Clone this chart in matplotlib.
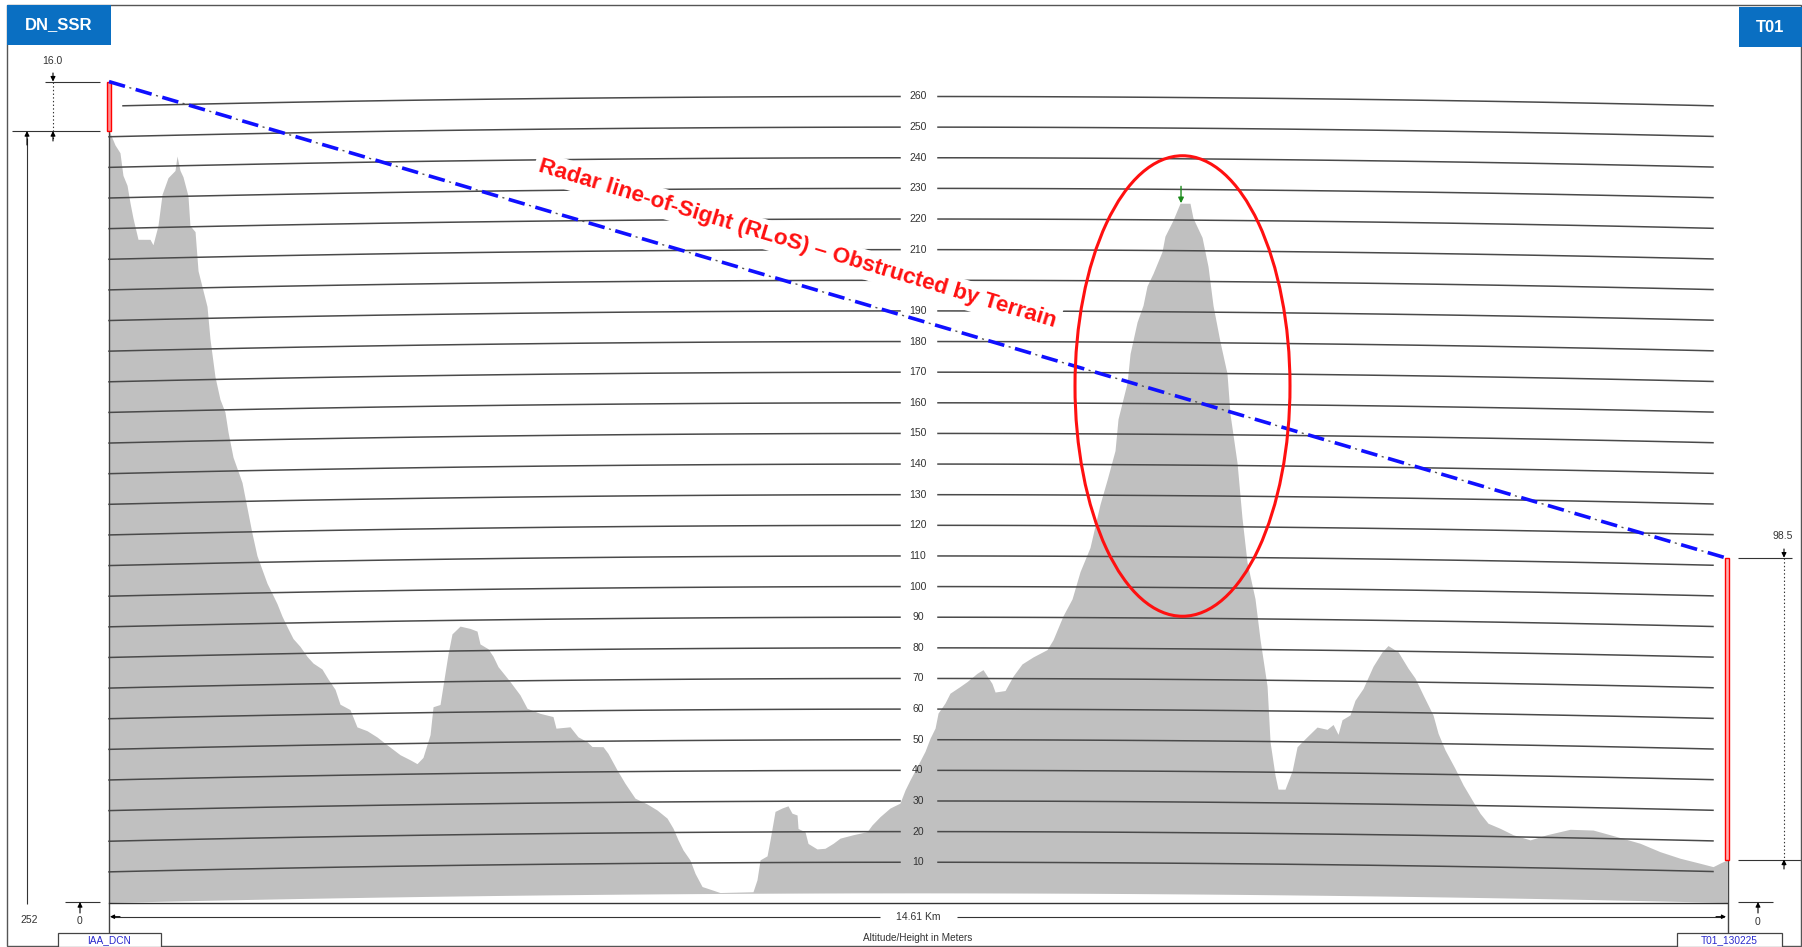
import numpy as np
import matplotlib
matplotlib.use("Agg")
import matplotlib.pyplot as plt
from matplotlib.patches import Ellipse, Rectangle

plt.rcParams['font.family'] = ['Liberation Sans', 'DejaVu Sans']
plt.rcParams['lines.scale_dashes'] = False

# ---- data ----
path_km = 14.61
site_a = "IAA_DCN"
site_b = "T01_130225"
site_a_ground = 252.0
site_a_antenna = 16.0
site_b_ground = 13.9
site_b_antenna = 98.5

dist_km = [0.000, 0.054, 0.099, 0.126, 0.163, 0.190, 0.217, 0.262, 0.370, 0.397,
           0.442, 0.479, 0.533, 0.596, 0.614, 0.641, 0.668, 0.713, 0.731, 0.777,
           0.804, 0.885, 0.912, 0.957, 1.002, 1.047, 1.075, 1.120, 1.201, 1.246,
           1.291, 1.336, 1.427, 1.472, 1.517, 1.562, 1.616, 1.662, 1.725, 1.788,
           1.842, 1.923, 1.978, 2.041, 2.086, 2.176, 2.239, 2.330, 2.420, 2.510,
           2.628, 2.718, 2.781, 2.835, 2.899, 2.926, 2.989, 3.061, 3.097, 3.170,
           3.260, 3.323, 3.350, 3.422, 3.468, 3.513, 3.621, 3.711, 3.775, 3.892,
           4.009, 4.036, 4.163, 4.235, 4.316, 4.361, 4.461, 4.506, 4.587, 4.659,
           4.750, 4.858, 4.948, 5.039, 5.093, 5.138, 5.183, 5.246, 5.292, 5.355,
           5.445, 5.517, 5.815, 5.851, 5.879, 5.942, 5.969, 6.014, 6.077, 6.131,
           6.167, 6.213, 6.222, 6.285, 6.312, 6.393, 6.465, 6.538, 6.601, 6.718,
           6.845, 6.890, 6.962, 7.052, 7.142, 7.188, 7.233, 7.305, 7.368, 7.414,
           7.459, 7.486, 7.549, 7.594, 7.685, 7.748, 7.838, 7.892, 7.973, 8.001,
           8.091, 8.163, 8.244, 8.344, 8.470, 8.524, 8.615, 8.696, 8.768, 8.858,
           8.949, 9.012, 9.084, 9.111, 9.193, 9.220, 9.283, 9.337, 9.373, 9.427,
           9.508, 9.535, 9.607, 9.671, 9.761, 9.788, 9.870, 9.924, 9.969, 10.032,
           10.095, 10.123, 10.186, 10.231, 10.276, 10.348, 10.394, 10.457, 10.484, 10.529,
           10.556, 10.619, 10.683, 10.728, 10.818, 10.908, 10.999, 11.053, 11.098, 11.134,
           11.206, 11.251, 11.324, 11.414, 11.495, 11.549, 11.640, 11.730, 11.793, 11.865,
           11.956, 12.001, 12.064, 12.154, 12.227, 12.308, 12.380, 12.452, 12.561, 12.678,
           12.832, 12.985, 13.193, 13.401, 13.617, 13.825, 14.005, 14.186, 14.367, 14.484,
           14.547, 14.610]

elev_m = [252.0, 247.3, 244.7, 237.3, 234.0, 228.2, 223.2, 216.3, 216.2, 214.4,
          220.6, 230.8, 236.2, 238.5, 243.2, 238.5, 236.4, 230.2, 220.4, 218.4,
          205.6, 193.9, 183.2, 170.9, 163.5, 159.3, 152.7, 144.5, 136.2, 127.9,
          119.6, 112.2, 103.1, 99.8, 96.4, 92.3, 88.2, 84.9, 82.3, 79.0,
          76.8, 74.8, 71.5, 68.1, 63.2, 61.4, 55.7, 54.4, 52.3, 49.7,
          46.4, 44.7, 43.4, 45.4, 52.8, 61.9, 62.6, 79.0, 85.6, 88.1,
          87.3, 86.4, 82.2, 80.6, 78.1, 74.7, 69.8, 65.4, 61.0, 59.3,
          58.2, 54.4, 54.8, 51.5, 49.9, 48.3, 48.2, 46.0, 40.6, 36.2,
          31.3, 29.4, 27.4, 24.7, 21.4, 17.6, 14.3, 11.0, 6.6, 2.3,
          1.2, 0.3, 0.5, 4.4, 10.9, 12.2, 17.4, 26.7, 27.8, 28.5,
          26.1, 25.5, 21.1, 20.0, 16.2, 14.4, 14.6, 16.2, 17.9, 19.0,
          20.0, 22.2, 24.9, 27.7, 29.3, 33.6, 36.9, 41.8, 46.2, 50.5,
          53.8, 58.7, 62.0, 65.2, 67.4, 69.0, 71.7, 72.9, 68.4, 65.6,
          66.1, 70.8, 74.8, 77.1, 79.5, 82.7, 90.6, 96.1, 105.0, 112.9,
          127.1, 135.0, 144.6, 154.9, 166.8, 176.3, 186.6, 192.1, 198.4, 202.5,
          209.6, 214.7, 219.9, 225.5, 225.5, 220.7, 214.4, 204.9, 192.2, 180.4,
          170.1, 156.7, 140.9, 122.8, 108.5, 96.6, 83.2, 68.1, 49.9, 39.0,
          34.5, 34.5, 40.5, 48.4, 51.7, 54.9, 54.2, 55.8, 52.6, 57.4,
          59.0, 63.8, 67.7, 75.0, 79.7, 81.8, 79.8, 74.5, 71.3, 65.9,
          59.3, 53.4, 48.0, 42.0, 36.7, 31.8, 27.5, 24.3, 22.7, 20.7,
          19.1, 20.9, 22.8, 22.7, 20.7, 18.7, 16.1, 14.1, 12.6, 11.6,
          12.8, 13.9]

levels = list(range(10, 270, 10))
obstruction_km = 9.68
obstruction_m = 225.5

# ---- page geometry (pixels of the 1802x947 picture) ----
W, H = 1802, 947
PX_X0, PX_X1 = 109, 1727
PX_BASE = 902.5
PX_PER_M = 3.063
KM_PER_PX = path_km / (PX_X1 - PX_X0)
K_R_KM = 4.0 / 3.0 * 6371.0

def kx(px):
    return (px - PX_X0) * KM_PER_PX

def my(py):
    return (PX_BASE - py) / PX_PER_M

def bulge(d):
    d = np.asarray(d, dtype=float)
    return d * (path_km - d) / (2 * K_R_KM) * 1000.0

LINE = '#4a4a4a'
DIM = '#333333'

fig = plt.figure(figsize=(W / 100, H / 100), dpi=100)
ax = fig.add_axes([0, 0, 1, 1])
ax.set_xlim(kx(0), kx(W))
ax.set_ylim(my(H), my(0))
ax.axis('off')

def seg(x0, y0, x1, y1, **kw):
    kw.setdefault('color', DIM)
    kw.setdefault('lw', 0.8)
    ax.plot([kx(x0), kx(x1)], [my(y0), my(y1)], solid_capstyle='butt', **kw)

def arrow(x0, y0, x1, y1, color='black', ms=7):
    ax.annotate('', xy=(kx(x1), my(y1)), xytext=(kx(x0), my(y0)),
                arrowprops=dict(arrowstyle='-|>', color=color, lw=0.8,
                                mutation_scale=ms, shrinkA=0, shrinkB=0))

def label(x, y, s, **kw):
    kw.setdefault('fontsize', 7.5)
    kw.setdefault('color', DIM)
    ax.text(kx(x), my(y), s, ha='center', va='center', **kw)

# terrain over the curved earth
d = np.array(dist_km)
e = np.array(elev_m)
ax.fill_between(d, bulge(d), e + bulge(d), color='#c0c0c0', lw=0, zorder=1)

# curved height lines with labels in the middle
gap_lo, gap_hi = kx(900), kx(938)
line_end = kx(1713)
for lv in levels:
    start = kx(123) if lv == levels[-1] else 0.0
    for a, b in [(start, gap_lo), (gap_hi, line_end)]:
        xs = np.linspace(a, b, 120)
        ax.plot(xs, lv + bulge(xs), color=LINE, lw=1.1, zorder=2)
    ax.text(path_km / 2, lv + bulge(path_km / 2), str(lv), ha='center', va='center',
            fontsize=7.5, color='#333333', zorder=2)

# base line and edge verticals
ax.plot([0, path_km], [0, 0], color='#333333', lw=1.0, zorder=3)
seg(109, 131, 109, 933, color='#444444', lw=1.0)
seg(1728, 860, 1728, 933, color='#444444', lw=1.0)

# antennas
ax.add_patch(Rectangle((-0.02, site_a_ground), 0.04, site_a_antenna,
                       facecolor='#ff9090', edgecolor='red', lw=1.0, zorder=4))
ax.add_patch(Rectangle((path_km - 0.02, site_b_ground), 0.04, site_b_antenna,
                       facecolor='#ffb0b0', edgecolor='red', lw=1.0, zorder=4))

# line of sight between antenna tops
los_x = [0.0, path_km]
los_y = [site_a_ground + site_a_antenna, site_b_ground + site_b_antenna]
ax.plot(los_x, los_y, color='#555555', lw=1.0, linestyle=(4.75, (1.5, 18.5)), zorder=6)
ax.plot(los_x, los_y, color='#1010ff', lw=2.6, linestyle=(0, (12, 8)), zorder=6)

# annotation text
ax.text(kx(797), my(244), 'Radar line-of-Sight (RLoS) \u2013 Obstructed by Terrain',
        color='#ff1010', fontsize=16.2, fontweight='bold', rotation=-16.8,
        rotation_mode='anchor', ha='center', va='center', zorder=5,
        bbox=dict(facecolor='white', edgecolor='none', pad=3))

# obstruction marker and ellipse
ax.add_patch(Ellipse((kx(1182.5), my(386)), kx(1290) - kx(1075), my(155.8) - my(616.3),
                     fill=False, edgecolor='#ff1010', lw=2.2, zorder=6))
top = obstruction_m + float(bulge(obstruction_km))
ax.annotate('', xy=(obstruction_km, top), xytext=(obstruction_km, top + 5.5),
            arrowprops=dict(arrowstyle='-|>', color='#1a8a1a', lw=1.0,
                            mutation_scale=8, shrinkA=0, shrinkB=0), zorder=7)

# left dimensions
seg(45, 81.6, 100, 81.6)
seg(12, 131, 100, 131)
seg(53, 81.6, 53, 140, linestyle=':', lw=0.8)
arrow(53, 73, 53, 81.6)
arrow(53, 141, 53, 131)
label(52, 61, f'{site_a_antenna:.1f}')
seg(27, 138, 27, 904)
arrow(27, 145, 27, 131)
label(29, 920, f'{site_a_ground:.0f}')
seg(65, 902, 100, 902)
arrow(80, 913, 80, 902)
label(80, 921, '0')

# right dimensions
seg(1738, 557.7, 1792, 557.7)
seg(1738, 859.5, 1802, 859.5)
seg(1784, 557.7, 1784, 866, linestyle=':', lw=0.8)
arrow(1784, 549, 1784, 557.7)
arrow(1784, 869, 1784, 859.5)
label(1783, 536, f'{site_b_antenna:.1f}')
seg(1738, 902, 1773, 902)
arrow(1758, 913, 1758, 902)
label(1758, 922, '0')

# path length
seg(112, 916.7, 880, 916.7)
seg(957, 916.7, 1724, 916.7)
arrow(120, 916.7, 110, 916.7, ms=6)
arrow(1716, 916.7, 1726, 916.7, ms=6)
label(918, 916.7, f'{path_km:.2f} Km')
label(918, 938, 'Altitude/Height in Meters', fontsize=7.2)

# site name boxes at the bottom
for x0, x1, name in [(58, 161, site_a), (1677, 1782, site_b)]:
    ax.add_patch(Rectangle((kx(x0), my(947)), kx(x1) - kx(x0), my(933) - my(947),
                           facecolor='white', edgecolor='#444444', lw=0.9, zorder=4))
    ax.text(kx((x0 + x1) / 2), my(940.5), name, ha='center', va='center',
            fontsize=7.3, color='#2a2acc', zorder=5)

# header boxes
for x0, x1, y0, y1, name in [(7, 111, 5, 45, 'DN_SSR'), (1739, 1802, 7, 47, 'T01')]:
    ax.add_patch(Rectangle((kx(x0), my(y1)), kx(x1) - kx(x0), my(y0) - my(y1),
                           facecolor='#0a6fc2', edgecolor='none', zorder=4))
    ax.text(kx((x0 + x1) / 2), my((y0 + y1) / 2), name, ha='center', va='center',
            fontsize=12, fontweight='bold', color='white', zorder=5)

# page frame
ax.add_patch(Rectangle((kx(7), my(946)), kx(1801) - kx(7), my(5) - my(946),
                       fill=False, edgecolor='#555555', lw=1.0, zorder=3))

fig.savefig('out.png', dpi=100)
